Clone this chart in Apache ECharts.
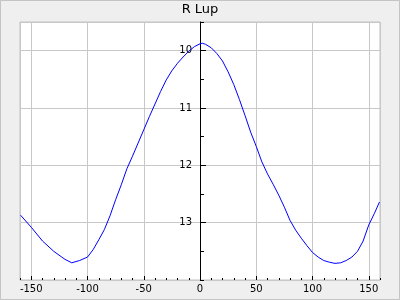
<!DOCTYPE html>
<html>
<head>
<meta charset="utf-8">
<script src="https://cdn.jsdelivr.net/npm/echarts@6/dist/echarts.min.js"></script>
<style>
html,body{margin:0;padding:0;background:#efefef;}
#c{width:400px;height:300px;}
</style>
</head>
<body>
<div id="c"></div>
<script>
const title = "R Lup";
const phase = [-159.5,-150,-140,-130,-120,-114,-107,-100,-95,-90,-85,-80,-75,-70,-65,-60,-55,-50,-45,-40,-35,-30,-25,-20,-15,-10,-5,0,2,5,10,15,20,25,30,35,40,45,50,55,60,65,70,75,80,85,90,95,100,105,110,115,120,125,130,135,140,145,150,155,159.5];
const mag = [12.87,13.08,13.32,13.50,13.64,13.70,13.66,13.60,13.47,13.30,13.12,12.88,12.60,12.34,12.06,11.84,11.61,11.38,11.15,10.93,10.71,10.51,10.35,10.22,10.11,10.01,9.93,9.88,9.87,9.89,9.95,10.05,10.18,10.37,10.59,10.85,11.13,11.42,11.67,11.94,12.15,12.33,12.52,12.73,12.96,13.13,13.27,13.40,13.52,13.60,13.66,13.69,13.71,13.70,13.66,13.60,13.50,13.32,13.04,12.84,12.64];
const xRange = [-160, 160];
const yRange = [9.5, 14];

const font = "DejaVu Sans";
const chart = echarts.init(document.getElementById('c'), null, {renderer:'canvas'});
chart.setOption({
  animation:false,
  backgroundColor:'#efefef',
  title:{text:title,left:'center',top:3,padding:0,itemGap:0,
    textStyle:{fontFamily:font,fontSize:13,fontWeight:'normal',color:'#000'}},
  graphic:[{type:'rect',shape:{x:0.5,y:0.5,width:399,height:299},
    style:{fill:null,stroke:'#c4c4c4',lineWidth:1},silent:true}],
  grid:{left:20,right:20,top:22,bottom:20,show:true,backgroundColor:'#fff',borderColor:'#c0c0c0',borderWidth:1},
  xAxis:[{
    type:'value',min:xRange[0],max:xRange[1],splitNumber:6,
    axisLine:{show:false,onZero:false},
    axisTick:{show:true,inside:true,length:4,lineStyle:{color:'#000'}},
    axisLabel:{fontFamily:font,fontSize:10,color:'#000',margin:4,showMinLabel:false,showMaxLabel:false,
      formatter:v=> (Math.abs(v)%50===0? String(v):'')},
    splitLine:{show:true,lineStyle:{color:'#c8c8c8',width:1}}
  },{
    type:'value',min:xRange[0],max:xRange[1],interval:10,position:'bottom',
    axisLine:{show:false,onZero:false},
    axisTick:{show:true,inside:true,length:2,lineStyle:{color:'#000'}},
    axisLabel:{show:false},splitLine:{show:false}
  }],
  yAxis:[{
    type:'value',inverse:true,min:yRange[0],max:yRange[1],splitNumber:4,position:'left',offset:-180,
    axisLine:{show:true,onZero:false,lineStyle:{color:'#000',width:1}},
    axisTick:{show:true,inside:true,length:6,lineStyle:{color:'#000'}},
    axisLabel:{fontFamily:font,fontSize:10,color:'#000',margin:8,showMinLabel:false,showMaxLabel:false,
      formatter:v=> (Number.isInteger(v)? String(v):'')},
    splitLine:{show:true,lineStyle:{color:'#c8c8c8',width:1}}
  },{
    type:'value',inverse:true,min:yRange[0],max:yRange[1],interval:0.5,position:'left',offset:-180,
    axisLine:{show:false,onZero:false},
    axisTick:{show:true,inside:true,length:4,lineStyle:{color:'#000'}},
    axisLabel:{show:false},splitLine:{show:false}
  }],
  series:[{
    type:'line',xAxisIndex:0,yAxisIndex:0,showSymbol:false,symbol:'none',
    data:phase.map((p,i)=>[p,mag[i]]),
    lineStyle:{color:'#0000ff',width:1},smooth:false
  }]
});
</script>
</body>
</html>
